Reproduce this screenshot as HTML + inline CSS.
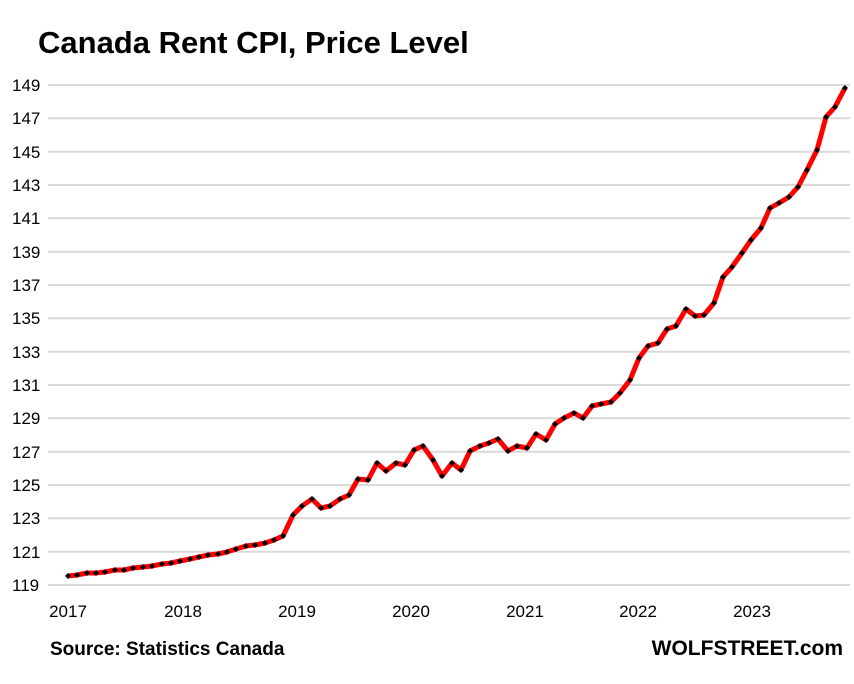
<!DOCTYPE html><html><head><meta charset="utf-8"><style>body{margin:0;background:#fff}</style></head><body>
<svg width="854" height="679" xmlns="http://www.w3.org/2000/svg" font-family="Liberation Sans, sans-serif">
<defs>
<marker id="d" markerUnits="userSpaceOnUse" markerWidth="8" markerHeight="8" refX="4" refY="4" orient="0">
<path d="M4,1 L7,4 L4,7 L1,4 Z" fill="#000"/>
</marker>
</defs>
<rect width="854" height="679" fill="#fff"/>
<text x="38" y="53" font-size="31" font-weight="bold">Canada Rent CPI, Price Level</text>
<g stroke="#d9d9d9" stroke-width="2">
<line x1="48" x2="850" y1="85" y2="85"/><line x1="48" x2="850" y1="118.3" y2="118.3"/><line x1="48" x2="850" y1="151.7" y2="151.7"/><line x1="48" x2="850" y1="185" y2="185"/><line x1="48" x2="850" y1="218.3" y2="218.3"/><line x1="48" x2="850" y1="251.7" y2="251.7"/><line x1="48" x2="850" y1="285" y2="285"/><line x1="48" x2="850" y1="318.3" y2="318.3"/><line x1="48" x2="850" y1="351.7" y2="351.7"/><line x1="48" x2="850" y1="385" y2="385"/><line x1="48" x2="850" y1="418.3" y2="418.3"/><line x1="48" x2="850" y1="451.7" y2="451.7"/><line x1="48" x2="850" y1="485" y2="485"/><line x1="48" x2="850" y1="518.3" y2="518.3"/><line x1="48" x2="850" y1="551.7" y2="551.7"/><line x1="48" x2="850" y1="585" y2="585"/>
</g>
<g font-size="17" fill="#000">
<text x="12" y="91">149</text><text x="12" y="124">147</text><text x="12" y="158">145</text><text x="12" y="191">143</text><text x="12" y="224">141</text><text x="12" y="258">139</text><text x="12" y="291">137</text><text x="12" y="324">135</text><text x="12" y="358">133</text><text x="12" y="391">131</text><text x="12" y="424">129</text><text x="12" y="458">127</text><text x="12" y="491">125</text><text x="12" y="524">123</text><text x="12" y="558">121</text><text x="12" y="591">119</text>
</g>
<g font-size="17" text-anchor="middle">
<text x="68" y="617">2017</text><text x="183" y="617">2018</text><text x="297" y="617">2019</text><text x="411" y="617">2020</text><text x="525" y="617">2021</text><text x="638" y="617">2022</text><text x="752" y="617">2023</text>
</g>
<text x="50" y="655" font-size="19" font-weight="bold">Source: Statistics Canada</text>
<text x="843" y="655" font-size="21" font-weight="bold" text-anchor="end">WOLFSTREET.com</text>
<polyline fill="none" stroke="#ff0000" stroke-width="5" stroke-linejoin="round" marker-start="url(#d)" marker-mid="url(#d)" marker-end="url(#d)" points="68,576 77,575 87,573 96,573 105,572 115,570 124,570 133,568 143,567 152,566 162,564 171,563 180,561 190,559 199,557 208,555 218,554 227,552 236,549 246,546 255,545 265,543 274,540 283,536 293,515 302,506 312,499 321,508 330,506 340,499 349,495 358,479 368,480 377,463 386,471 396,463 405,465 414,450 423,446 433,460 442,476 452,463 461,470 470,451 480,446 489,443 498,439 508,451 517,446 527,448 536,434 546,440 555,424 564,418 574,413 583,418 592,406 601,404 611,402 620,393 630,380 639,358 648,346 658,343 667,329 676,326 686,309 695,316 704,315 714,303 723,277 732,267 742,253 751,240 761,228 770,208 779,203 789,197 798,187 807,170 817,150 826,117 835,107 845,88"/>
</svg>
</body></html>
